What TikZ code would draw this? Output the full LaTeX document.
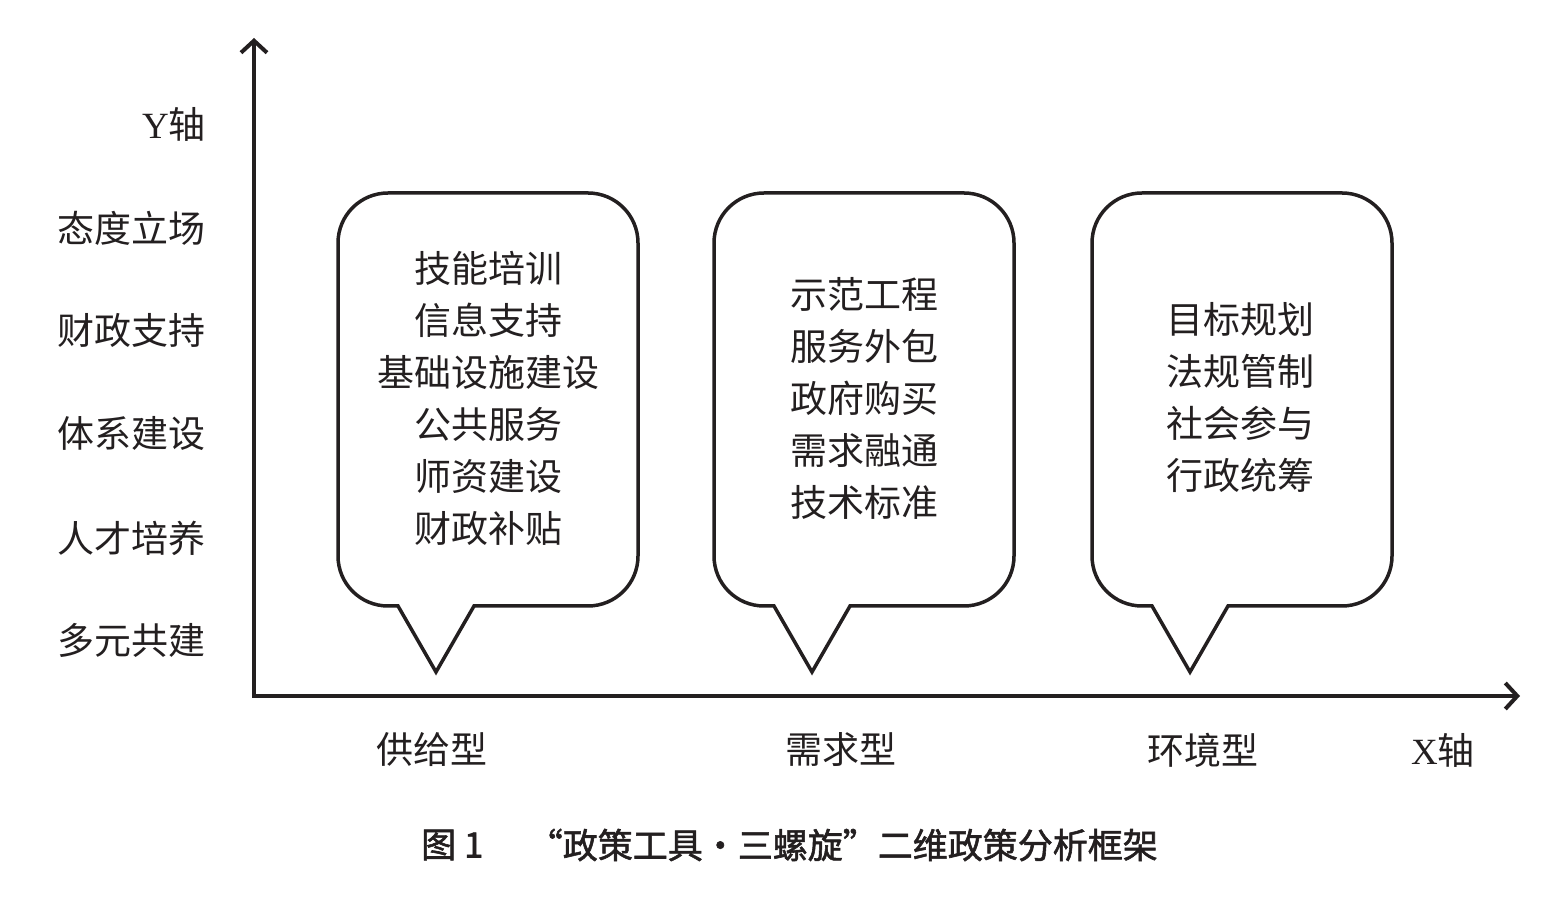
\documentclass[tikz,border=0pt]{standalone}
\usepackage{fontspec}
\setmainfont{Liberation Serif}
\newfontfamily\cjk{Noto Sans CJK SC}
\newfontfamily\cjkm{Noto Sans CJK SC}[FakeBold=1.6]
\newfontfamily\cjkq{Noto Sans CJK SC}[CharacterWidth=Full,FakeBold=1.6]
\newfontfamily\lat{Liberation Serif}
\usetikzlibrary{arrows.meta}
\definecolor{ink}{HTML}{231F20}
\begin{document}
\begin{tikzpicture}[x=1pt,y=1pt,
  axis/.style={line width=4pt, draw=ink},
  bubble/.style={line width=3.5pt, draw=ink, line join=miter, miter limit=20},
  boxtext/.style={font=\cjk\fontsize{37}{52}\selectfont, align=center, inner sep=0pt, text=ink},
  ylab/.style={font=\cjk\fontsize{37}{44}\selectfont, anchor=east, inner sep=0pt, text=ink},
  xlab/.style={font=\cjk\fontsize{37}{44}\selectfont, inner sep=0pt, text=ink},
  captext/.style={font=\cjkm\fontsize{35}{40}\selectfont, inner sep=0pt, text=ink}]
\path[use as bounding box] (0,0) rectangle (1557,907);
% axes
\coordinate (O) at (254,211);
\coordinate (Ytip) at (254,869);
\coordinate (Xtip) at (1520,211);
\draw[axis,{Straight Barb[length=12pt,width=26pt]}-{Straight Barb[length=12pt,width=26pt]}] (Ytip) -- (O) -- (Xtip);
% callouts
\foreach \L in {338,714,1092} {
  \draw[bubble] (\L+136,301) -- (\L+250,301) arc[start angle=-90,end angle=0,radius=50]
    -- (\L+300,664) arc[start angle=0,end angle=90,radius=50]
    -- (\L+50,714) arc[start angle=90,end angle=180,radius=50]
    -- (\L,351) arc[start angle=180,end angle=270,radius=50]
    -- (\L+60,301) -- (\L+98,235) -- cycle;
}
% texts in callouts
\node[boxtext] (t1) at (488,509) {技能培训\\信息支持\\基础设施建设\\公共服务\\师资建设\\财政补贴};
\node[boxtext] (t2) at (864,509) {示范工程\\服务外包\\政府购买\\需求融通\\技术标准};
\node[boxtext] (t3) at (1240,509) {目标规划\\法规管制\\社会参与\\行政统筹};
% y labels
\node[ylab] (yax) at (206,783) {{\lat Y}轴};
\node[ylab] (y1) at (206,679) {态度立场};
\node[ylab] (y2) at (206,577) {财政支持};
\node[ylab] (y3) at (206,473) {体系建设};
\node[ylab] (y4) at (206,369) {人才培养};
\node[ylab] (y5) at (206,267) {多元共建};
% x labels
\node[xlab] (x1) at (432,157) {供给型};
\node[xlab] (x2) at (841,157) {需求型};
\node[xlab] (x3) at (1203,157) {环境型};
\node[xlab] (xax) at (1443,157) {{\lat X}轴};
% caption
\node[captext, anchor=west] (fig) at (421,62) {图 1};
\node[captext, anchor=east] (title) at (1158,62) {{\cjkq “}政策工具{\cjkq ・}三螺旋{\cjkq ”}二维政策分析框架};
\end{tikzpicture}
\end{document}
